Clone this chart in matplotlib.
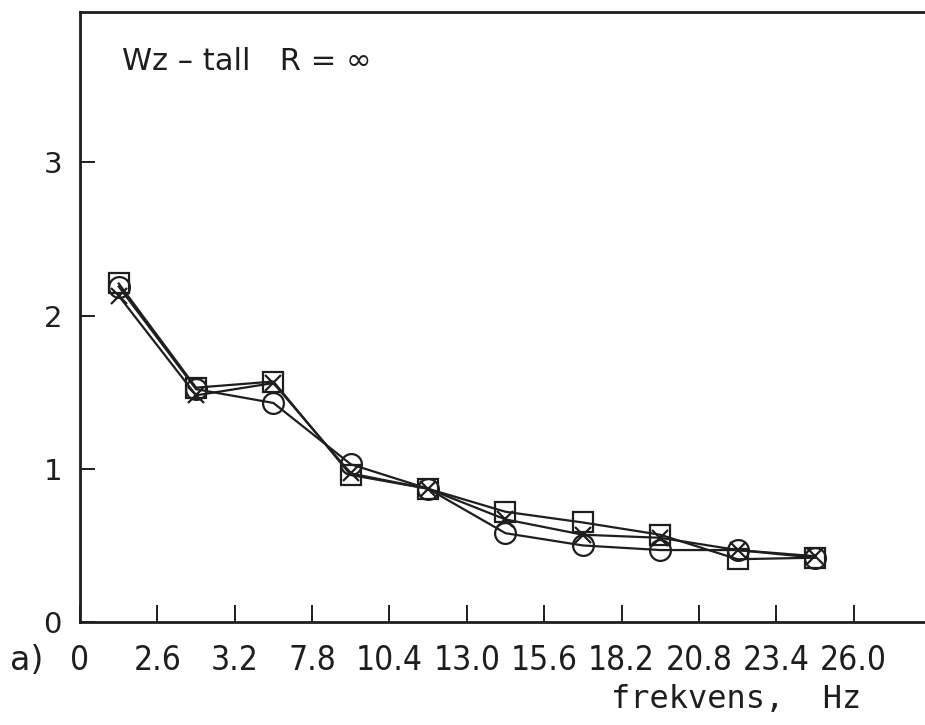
"""Wz-tall mot frekvens, R = uendelig (figur a)."""
import matplotlib
matplotlib.use('Agg')
import matplotlib.pyplot as plt

INK = '#1e1e1e'

# midtfrekvens for hvert bånd
freq = [1.3, 3.9, 6.5, 9.1, 11.7, 14.3, 16.9, 19.5, 22.1, 24.7]

# tre måleserier (firkant, sirkel, kryss)
wz_square = [2.21, 1.53, 1.57, 0.96, 0.87, 0.72, 0.65, 0.57, 0.41, 0.42]
wz_circle = [2.19, 1.52, 1.43, 1.03, 0.87, 0.58, 0.50, 0.47, 0.47, 0.42]
wz_cross = [2.13, 1.48, 1.56, 0.97, 0.87, 0.67, 0.57, 0.55, 0.47, 0.43]

xtick_pos = [0, 2.6, 5.2, 7.8, 10.4, 13.0, 15.6, 18.2, 20.8, 23.4, 26.0]
xtick_labels = ['0', '2.6', '3.2', '7.8', '10.4', '13.0', '15.6', '18.2',
                '20.8', '23.4', '26.0']
ytick_pos = [0, 1, 2, 3]
ytick_labels = ['0', '1', '2', '3']


def main():
    fig = plt.figure(figsize=(9.25, 7.25), dpi=100, facecolor='white')
    ax = fig.add_axes([0.0865, 0.142, 0.9135, 0.841])

    common = dict(color=INK, linewidth=1.6, markeredgewidth=1.6,
                  markerfacecolor='none', markeredgecolor=INK)
    ax.plot(freq, wz_square, marker='s', markersize=15, **common)
    ax.plot(freq, wz_circle, marker='o', markersize=15, **common)
    ax.plot(freq, wz_cross, marker='x', markersize=11, **common)

    ax.set_xlim(0, 28.4)
    ax.set_ylim(0, 3.98)

    # frekvensverdiene i smal skrift
    ax.set_xticks(xtick_pos)
    ax.set_xticklabels(xtick_labels, family='DejaVu Sans',
                       fontstretch='condensed', fontsize=24, color=INK)
    ax.set_yticks(ytick_pos)
    ax.set_yticklabels(ytick_labels, family='DejaVu Sans', fontsize=21,
                       color=INK)
    ax.tick_params(axis='x', direction='in', length=12, width=1.4,
                   colors=INK, pad=16)
    ax.tick_params(axis='y', direction='in', length=11, width=1.4,
                   colors=INK, pad=13)

    ax.spines['right'].set_visible(False)
    for side in ['left', 'bottom', 'top']:
        ax.spines[side].set_linewidth(2)
        ax.spines[side].set_color(INK)

    ax.text(1.4, 3.66, 'Wz – tall   R = ∞', fontsize=22, color=INK,
            family='DejaVu Sans', ha='left', va='center')

    fig.text(27 / 925, 1 - 660 / 725, 'a)', fontsize=24, color=INK,
             family='DejaVu Sans', ha='center', va='center')
    fig.text(736 / 925, 1 - 700 / 725, 'frekvens,  Hz', fontsize=23,
             color=INK, family='DejaVu Sans Mono', ha='center', va='center')

    fig.savefig('out.png', dpi=100, facecolor='white')


if __name__ == '__main__':
    main()
